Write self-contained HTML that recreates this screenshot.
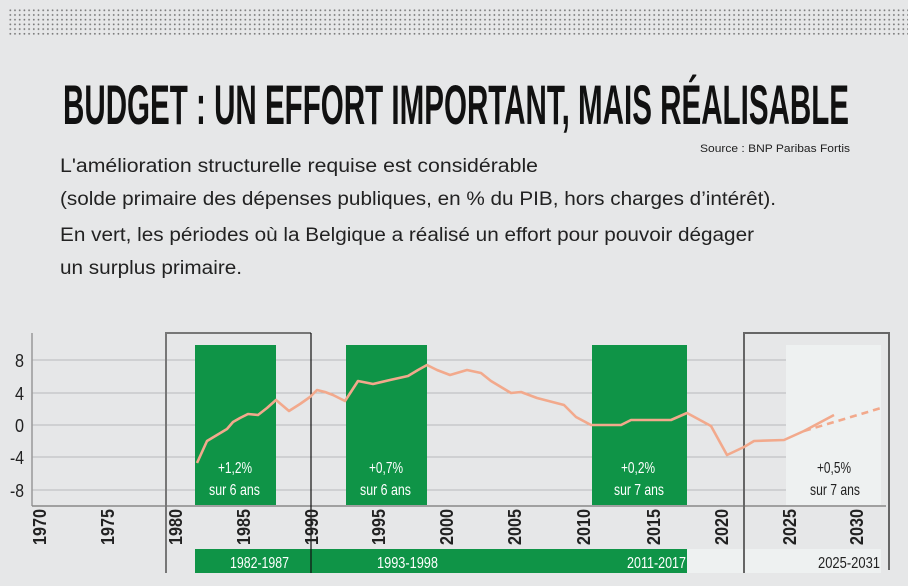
<!DOCTYPE html>
<html><head><meta charset="utf-8"><style>
html,body{margin:0;padding:0;background:#e6e7e8;}
svg{display:block;}
text{font-family:"Liberation Sans",sans-serif;}
</style></head><body>
<svg width="908" height="586" viewBox="0 0 908 586" xmlns="http://www.w3.org/2000/svg">
<defs>
<pattern id="dots" x="9" y="9" width="4.7" height="4.7" patternUnits="userSpaceOnUse">
<circle cx="1.3" cy="1.3" r="0.9" fill="#777"/>
</pattern>
</defs>
<rect width="908" height="586" fill="#e6e7e8"/>
<rect x="8" y="9" width="900" height="26" fill="url(#dots)"/>

<text x="63" y="124" font-size="56" font-weight="bold" fill="#111" textLength="786" lengthAdjust="spacingAndGlyphs">BUDGET : UN EFFORT IMPORTANT, MAIS RÉALISABLE</text>
<text x="700" y="152" font-size="11" fill="#222" textLength="150" lengthAdjust="spacingAndGlyphs">Source : BNP Paribas Fortis</text>
<g font-size="19" fill="#222">
<text x="60" y="172" textLength="478" lengthAdjust="spacingAndGlyphs">L'amélioration structurelle requise est considérable</text>
<text x="60" y="205" textLength="716" lengthAdjust="spacingAndGlyphs">(solde primaire des dépenses publiques, en % du PIB, hors charges d’intérêt).</text>
<text x="60" y="241" textLength="694" lengthAdjust="spacingAndGlyphs">En vert, les périodes où la Belgique a réalisé un effort pour pouvoir dégager</text>
<text x="60" y="274" textLength="182" lengthAdjust="spacingAndGlyphs">un surplus primaire.</text>
</g>

<rect x="786" y="345" width="95" height="160" fill="#eef1f1"/>
<rect x="687" y="549" width="194" height="24" fill="#eef1f1"/>

<g stroke="#b8b9bb" stroke-width="1">
<line x1="32" y1="360" x2="786" y2="360"/>
<line x1="32" y1="393" x2="786" y2="393"/>
<line x1="32" y1="425" x2="786" y2="425"/>
<line x1="32" y1="457" x2="786" y2="457"/>
<line x1="32" y1="490" x2="786" y2="490"/>
</g>
<line x1="32" y1="333" x2="32" y2="506" stroke="#999" stroke-width="1.5"/>
<line x1="32" y1="506" x2="886" y2="506" stroke="#888" stroke-width="1.5"/>

<g fill="#0f9447">
<rect x="195" y="345" width="81" height="160"/>
<rect x="346" y="345" width="81" height="160"/>
<rect x="592" y="345" width="95" height="160"/>
<rect x="195" y="549" width="492" height="24"/>
</g>

<polyline points="166,573 166,333 311,333" fill="none" stroke="#777" stroke-width="2"/>
<line x1="311" y1="333" x2="311" y2="573" stroke="#111" stroke-width="1.2"/>
<polyline points="744,573 744,333 889,333 889,570" fill="none" stroke="#666" stroke-width="2"/>

<polyline fill="none" stroke="#f2a98c" stroke-width="2.6" stroke-linejoin="round" points="197,463 207,441 217,435 227,429 233,422 240,418 248,414 258,415 267,408 276,400 289,411 300,404 310,397 317,390 325,392 333,395 345,401 358,381 373,384 390,380 408,376 418,370 427,365 437,370 450,375 467,370 481,373 491,381 511,393 521,392 537,398 564,405 576,417 591,425 621,425 631,420 671,420 687,413 711,426 727,455 744,447 754,441 784,440 804,431 834,415"/>
<line x1="804" y1="431" x2="881" y2="408" stroke="#f2a98c" stroke-width="2.6" stroke-dasharray="7,5"/>

<g font-size="18" fill="#222" text-anchor="end">
<text x="24" y="367" textLength="9" lengthAdjust="spacingAndGlyphs">8</text>
<text x="24" y="400" textLength="9" lengthAdjust="spacingAndGlyphs">4</text>
<text x="24" y="432" textLength="9" lengthAdjust="spacingAndGlyphs">0</text>
<text x="24" y="464" textLength="14" lengthAdjust="spacingAndGlyphs">-4</text>
<text x="24" y="497" textLength="14" lengthAdjust="spacingAndGlyphs">-8</text>
</g>

<g font-size="18" font-weight="bold" fill="#222">
<text transform="translate(46,545) rotate(-90)" textLength="36" lengthAdjust="spacingAndGlyphs">1970</text>
<text transform="translate(114,545) rotate(-90)" textLength="36" lengthAdjust="spacingAndGlyphs">1975</text>
<text transform="translate(182,545) rotate(-90)" textLength="36" lengthAdjust="spacingAndGlyphs">1980</text>
<text transform="translate(250,545) rotate(-90)" textLength="36" lengthAdjust="spacingAndGlyphs">1985</text>
<text transform="translate(318,545) rotate(-90)" textLength="36" lengthAdjust="spacingAndGlyphs">1990</text>
<text transform="translate(385,545) rotate(-90)" textLength="36" lengthAdjust="spacingAndGlyphs">1995</text>
<text transform="translate(453,545) rotate(-90)" textLength="36" lengthAdjust="spacingAndGlyphs">2000</text>
<text transform="translate(521,545) rotate(-90)" textLength="36" lengthAdjust="spacingAndGlyphs">2005</text>
<text transform="translate(590,545) rotate(-90)" textLength="36" lengthAdjust="spacingAndGlyphs">2010</text>
<text transform="translate(660,545) rotate(-90)" textLength="36" lengthAdjust="spacingAndGlyphs">2015</text>
<text transform="translate(728,545) rotate(-90)" textLength="36" lengthAdjust="spacingAndGlyphs">2020</text>
<text transform="translate(796,545) rotate(-90)" textLength="36" lengthAdjust="spacingAndGlyphs">2025</text>
<text transform="translate(863,545) rotate(-90)" textLength="36" lengthAdjust="spacingAndGlyphs">2030</text>
</g>

<g font-size="16" fill="#fff">
<text x="218" y="473" textLength="34" lengthAdjust="spacingAndGlyphs">+1,2%</text>
<text x="209" y="495" textLength="51" lengthAdjust="spacingAndGlyphs">sur 6 ans</text>
<text x="369" y="473" textLength="34" lengthAdjust="spacingAndGlyphs">+0,7%</text>
<text x="360" y="495" textLength="51" lengthAdjust="spacingAndGlyphs">sur 6 ans</text>
<text x="621" y="473" textLength="34" lengthAdjust="spacingAndGlyphs">+0,2%</text>
<text x="614" y="495" textLength="50" lengthAdjust="spacingAndGlyphs">sur 7 ans</text>
<text x="230" y="568" textLength="59" lengthAdjust="spacingAndGlyphs">1982-1987</text>
<text x="377" y="568" textLength="61" lengthAdjust="spacingAndGlyphs">1993-1998</text>
<text x="627" y="568" textLength="59" lengthAdjust="spacingAndGlyphs">2011-2017</text>
</g>
<g font-size="16" fill="#222">
<text x="817" y="473" textLength="34" lengthAdjust="spacingAndGlyphs">+0,5%</text>
<text x="810" y="495" textLength="50" lengthAdjust="spacingAndGlyphs">sur 7 ans</text>
<text x="818" y="568" textLength="62" lengthAdjust="spacingAndGlyphs">2025-2031</text>
</g>
</svg>
</body></html>
